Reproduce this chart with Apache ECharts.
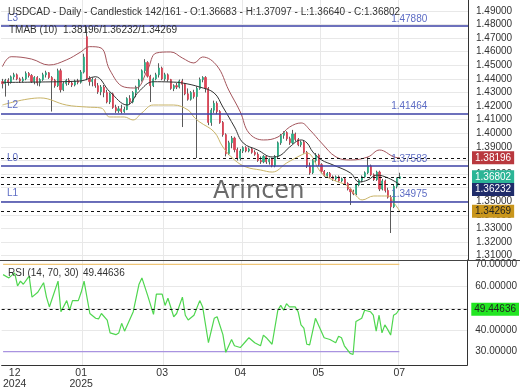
<!DOCTYPE html>
<html><head><meta charset="utf-8">
<script src="https://cdn.jsdelivr.net/npm/echarts@6/dist/echarts.min.js"></script>
<style>html,body{margin:0;padding:0;background:#fff}#c{width:520px;height:390px}</style>
</head><body><div id="c"></div>
<script>
const FONT = '"Liberation Sans",Arial,sans-serif';
const FS = 10;
const SLOTS = 161;
// [open, close, low, high]
const candles = [
[1.4380,1.4365,1.4330,1.4400],[1.4365,1.4390,1.4270,1.4400],[1.4390,1.4375,1.4350,1.4405],[1.4375,1.4415,1.4365,1.4425],
[1.4415,1.4430,1.4395,1.4445],[1.4430,1.4400,1.4390,1.4440],[1.4400,1.4385,1.4370,1.4410],[1.4385,1.4400,1.4375,1.4415],
[1.4400,1.4440,1.4390,1.4455],[1.4440,1.4425,1.4410,1.4450],[1.4425,1.4380,1.4370,1.4435],[1.4380,1.4410,1.4360,1.4420],
[1.4410,1.4370,1.4350,1.4420],[1.4370,1.4395,1.4345,1.4405],[1.4395,1.4430,1.4385,1.4445],[1.4430,1.4445,1.4410,1.4460],
[1.4445,1.4410,1.4400,1.4450],[1.4410,1.4390,1.4160,1.4420],[1.4390,1.4350,1.4335,1.4400],[1.4350,1.4460,1.4340,1.4475],
[1.4460,1.4320,1.4300,1.4475],[1.4320,1.4365,1.4310,1.4380],[1.4365,1.4390,1.4350,1.4400],[1.4390,1.4370,1.4355,1.4405],
[1.4370,1.4355,1.4340,1.4385],[1.4355,1.4385,1.4345,1.4395],[1.4385,1.4375,1.4360,1.4400],[1.4375,1.4450,1.4365,1.4465],
[1.4450,1.4560,1.4440,1.4585],[1.4710,1.4405,1.4390,1.4788],[1.4405,1.4380,1.4350,1.4420],[1.4380,1.4395,1.4345,1.4410],
[1.4395,1.4350,1.4335,1.4405],[1.4350,1.4305,1.4290,1.4370],[1.4305,1.4340,1.4280,1.4355],[1.4340,1.4300,1.4265,1.4355],
[1.4300,1.4230,1.4220,1.4320],[1.4230,1.4290,1.4215,1.4300],[1.4290,1.4190,1.4180,1.4300],[1.4190,1.4165,1.4150,1.4210],
[1.4165,1.4180,1.4150,1.4200],[1.4180,1.4160,1.4145,1.4210],[1.4160,1.4175,1.4150,1.4195],[1.4175,1.4255,1.4170,1.4265],
[1.4255,1.4230,1.4215,1.4280],[1.4230,1.4300,1.4220,1.4310],[1.4300,1.4340,1.4265,1.4350],[1.4340,1.4390,1.4320,1.4400],
[1.4390,1.4460,1.4380,1.4470],[1.4460,1.4520,1.4440,1.4545],[1.4520,1.4420,1.4410,1.4530],[1.4420,1.4350,1.4230,1.4430],
[1.4350,1.4400,1.4340,1.4410],[1.4400,1.4430,1.4390,1.4445],[1.4430,1.4480,1.4410,1.4515],[1.4480,1.4400,1.4390,1.4490],
[1.4400,1.4430,1.4385,1.4445],[1.4430,1.4395,1.4380,1.4440],[1.4395,1.4330,1.4320,1.4400],[1.4330,1.4350,1.4310,1.4360],
[1.4350,1.4340,1.4325,1.4370],[1.4340,1.4385,1.4330,1.4395],[1.4385,1.4360,1.4046,1.4400],[1.4360,1.4290,1.4280,1.4370],
[1.4290,1.4250,1.4240,1.4330],[1.4250,1.4300,1.4240,1.4310],[1.4300,1.4270,1.4255,1.4320],[1.4270,1.4330,1.3818,1.4345],
[1.4330,1.4395,1.4320,1.4410],[1.4395,1.4410,1.4375,1.4420],[1.4410,1.4330,1.4300,1.4420],[1.4330,1.4080,1.4060,1.4340],
[1.4080,1.4170,1.4055,1.4185],[1.4170,1.4220,1.4150,1.4240],[1.4220,1.4160,1.4140,1.4235],[1.4160,1.4080,1.4070,1.4170],
[1.4080,1.3990,1.3975,1.4090],[1.3990,1.3850,1.3830,1.4000],[1.3850,1.3930,1.3840,1.3945],[1.3930,1.3965,1.3890,1.3980],
[1.3965,1.3880,1.3860,1.3975],[1.3880,1.3815,1.3800,1.3895],[1.3815,1.3870,1.3800,1.3885],[1.3870,1.3895,1.3855,1.3905],
[1.3895,1.3870,1.3860,1.3905],[1.3870,1.3885,1.3860,1.3895],[1.3885,1.3860,1.3850,1.3895],[1.3860,1.3845,1.3835,1.3875],
[1.3845,1.3800,1.3790,1.3860],[1.3800,1.3790,1.3775,1.3830],[1.3790,1.3830,1.3780,1.3840],[1.3830,1.3790,1.3775,1.3840],
[1.3790,1.3810,1.3770,1.3820],[1.3810,1.3760,1.3750,1.3820],[1.3760,1.3830,1.3750,1.3840],[1.3830,1.3930,1.3815,1.3940],
[1.3930,1.3985,1.3915,1.3995],[1.3985,1.4005,1.3960,1.4015],[1.4005,1.3960,1.3945,1.4015],[1.3960,1.3930,1.3915,1.3975],
[1.3930,1.3995,1.3920,1.4025],[1.3995,1.3955,1.3940,1.4005],[1.3955,1.3915,1.3905,1.3965],[1.3915,1.3935,1.3900,1.3945],
[1.3935,1.3860,1.3850,1.3945],[1.3860,1.3760,1.3745,1.3870],[1.3760,1.3710,1.3695,1.3785],[1.3710,1.3800,1.3700,1.3810],
[1.3800,1.3840,1.3785,1.3855],[1.3840,1.3770,1.3760,1.3850],[1.3770,1.3720,1.3705,1.3780],[1.3720,1.3690,1.3680,1.3730],
[1.3690,1.3705,1.3680,1.3715],[1.3705,1.3680,1.3670,1.3715],[1.3680,1.3665,1.3650,1.3690],[1.3665,1.3680,1.3650,1.3690],
[1.3680,1.3650,1.3640,1.3690],[1.3650,1.3665,1.3640,1.3675],[1.3665,1.3630,1.3620,1.3675],[1.3630,1.3590,1.3580,1.3640],
[1.3590,1.3570,1.3473,1.3600],[1.3570,1.3555,1.3545,1.3585],[1.3555,1.3620,1.3545,1.3630],[1.3620,1.3655,1.3610,1.3665],
[1.3655,1.3680,1.3640,1.3690],[1.3680,1.3710,1.3670,1.3720],[1.3710,1.3760,1.3700,1.3826],[1.3760,1.3695,1.3685,1.3770],
[1.3695,1.3660,1.3650,1.3705],[1.3660,1.3715,1.3650,1.3725],[1.3715,1.3590,1.3575,1.3725],[1.3590,1.3650,1.3580,1.3665],
[1.3650,1.3580,1.3565,1.3660],[1.3580,1.3530,1.3520,1.3600],[1.3530,1.3460,1.3267,1.3545],[1.3460,1.3610,1.3450,1.3620],
[1.3610,1.3668,1.3595,1.3675],[1.36683,1.36802,1.36640,1.37097]
];
// TMAB bands: [bar index, value]
const tmabUpper = [[0,1.4490],[3,1.4563],[10,1.4546],[16,1.4502],[22,1.4539],[27,1.4598],[30,1.4637],[34,1.4627],[37,1.4466],[42,1.4340],[46,1.4333],[50,1.4466],[53,1.4590],[58,1.4598],[62,1.4554],[66,1.4517],[69,1.4561],[74,1.4495],[78,1.4318],[82,1.4157],[85,1.4002],[90,1.3951],[95,1.3973],[99,1.4046],[103,1.4076],[106,1.4024],[110,1.3929],[115,1.3826],[120,1.3804],[126,1.3826],[130,1.3877],[135,1.3826],[137,1.38196]];
const tmabMiddle = [[0,1.4374],[13,1.4377],[27,1.4385],[32,1.4416],[37,1.4306],[43,1.4208],[47,1.4306],[52,1.4379],[58,1.4377],[62,1.4370],[68,1.4340],[73,1.4296],[76,1.4193],[80,1.4046],[83,1.3929],[88,1.3877],[93,1.3826],[96,1.3840],[99,1.3899],[103,1.3951],[105,1.3929],[107,1.3863],[110,1.3804],[114,1.3767],[120,1.3708],[123,1.3642],[126,1.3657],[129,1.3693],[133,1.3671],[137,1.36232]];
const tmabLower = [[0,1.4208],[13,1.4260],[22,1.4208],[29,1.4193],[34,1.4186],[37,1.4120],[42,1.4120],[45,1.4098],[48,1.4149],[52,1.4208],[59,1.4208],[64,1.4171],[66,1.4120],[68,1.4083],[73,1.4010],[76,1.3899],[80,1.3804],[84,1.3752],[89,1.3730],[93,1.3715],[98,1.3782],[103,1.3840],[105,1.3855],[110,1.3708],[114,1.3657],[119,1.3613],[122,1.3539],[124,1.3510],[128,1.3539],[133,1.3539],[135,1.3488],[137,1.34269]];
const rsi = [[0,65.3],[2,63.8],[4,66.1],[5,60.1],[6,62.3],[7,60.9],[9,64.6],[10,55],[12,57.2],[14,61.6],[15,55],[16,50.5],[19,62.3],[20,48.3],[22,53.4],[23,49],[24,53.4],[26,53.4],[27,57.2],[28,62.3],[30,47.5],[32,45.3],[33,45],[34,47.5],[36,44.5],[37,38.6],[39,37.8],[40,38.6],[41,43],[42,39.4],[45,48.3],[47,60.9],[48,63.8],[50,55.7],[52,47.1],[53,56.4],[55,56.4],[56,51.2],[57,54.5],[59,46],[60,47.5],[62,55],[63,46.7],[64,44.5],[66,46.7],[68,53.4],[69,50.5],[71,34.1],[73,45.3],[74,46],[76,37.8],[77,29.7],[79,35.6],[80,32.7],[82,31.9],[84,34.9],[85,36.4],[87,34.1],[89,32.7],[90,37.6],[91,36.4],[93,33.4],[95,49],[96,51.2],[97,49],[98,52],[99,50.5],[101,50.5],[102,48.3],[103,42.3],[104,40.8],[105,33.4],[106,33.1],[108,45.3],[110,39.4],[111,36.4],[113,35.6],[115,34.1],[116,37.1],[117,36.4],[118,32.7],[120,29.2],[121,28.7],[122,43.8],[124,45.3],[125,49],[127,48.3],[128,46.7],[129,39.4],[130,46.7],[131,38.6],[132,42.3],[133,40.1],[134,37.6],[135,46.7],[136,47.5],[137,49.44636]];
const levelNames = ['L3','L2','L0','L1'];
const levelValues = [1.47880, 1.41464, 1.37583, 1.34975];
const tmabLast = [1.38196, 1.36232, 1.34269];
const lastClose = 1.36802;
const rsiLast = 49.44636;
const rsiBounds = [70, 30];
const mainTicks = [1.31,1.32,1.33,1.34,1.35,1.36,1.37,1.38,1.39,1.40,1.41,1.42,1.43,1.44,1.45,1.46,1.47,1.48,1.49];
const rsiLabelTicks = [30,40,60,70];
const rsiGridTicks = [40,50,60];
const xTickIdx = [4,27,55,82,109,137];
const xTickLabels = ['12\n2024','01\n2025','03','04','05','07'];
const xGridIdx = [28,56,83,110,137];

const categories = [];
{ const d = new Date(Date.UTC(2024,11,24));
  while (categories.length < SLOTS) { const wd = d.getUTCDay(); if (wd !== 0 && wd !== 6) categories.push(d.toISOString().slice(0,10)); d.setUTCDate(d.getUTCDate()+1); } }
const lastIdx = candles.length - 1;

const txt = (o) => Object.assign({fontFamily: FONT, fontSize: FS, fontWeight: 'normal', color: '#333'}, o || {});
const badge = (bg, fg, v, dy) => ({show: true, position: 'end', distance: 4, offset: [0, dy || 0], formatter: v.toFixed(5), backgroundColor: bg, color: fg, padding: [2,3,1,3], fontFamily: FONT, fontSize: FS});
const dashed = {type: [3,3], color: '#111', width: 1};
const levelLine = {type: 'solid', color: '#3c42a6', width: 1.5};
const gridColor = '#e8e8e8';
const ml = (data) => ({symbol: ['none','none'], silent: true, animation: false, precision: 5, data});

const chart = echarts.init(document.getElementById('c'), null, {renderer: 'canvas'});
chart.setOption({
  animation: false,
  backgroundColor: '#fff',
  title: [
    {text: 'USDCAD - Daily - Candlestick', left: 8, top: 7, padding: 0, textStyle: txt()},
    {text: '142/161 - O:1.36683 - H:1.37097 - L:1.36640 - C:1.36802', left: 145, top: 7, padding: 0, textStyle: txt()},
    {text: 'TMAB (10)', left: 9, top: 25, padding: 0, textStyle: txt()},
    {text: tmabLast.map(v => v.toFixed(5)).join('/'), left: 63, top: 25, padding: 0, textStyle: txt()},
    {text: 'RSI (14, 70, 30)', left: 8, top: 268, padding: 0, textStyle: txt()},
    {text: rsiLast.toFixed(5), left: 83, top: 268, padding: 0, textStyle: txt()},
    {text: 'Arincen', left: 213, top: 180, padding: 0, textStyle: {fontFamily: 'DejaVu Sans', fontSize: 24, fontWeight: 'normal', color: '#6a6a6a'}}
  ],
  grid: [
    {left: 1, right: 52, top: 0, height: 260},
    {left: 1, right: 52, top: 260, height: 108}
  ],
  xAxis: [
    {type: 'category', gridIndex: 0, data: categories, boundaryGap: true,
     axisLine: {show: false}, axisTick: {show: false}, axisLabel: {show: false},
     splitLine: {show: true, interval: (i) => xGridIdx.includes(i), lineStyle: {color: gridColor}}},
    {type: 'category', gridIndex: 1, data: categories, boundaryGap: true,
     axisLine: {show: true, lineStyle: {color: '#333'}}, axisTick: {show: false},
     axisLabel: {interval: (i) => xTickIdx.includes(i), formatter: (v, i) => xTickLabels[xTickIdx.indexOf(i)] || '',
       color: '#333', fontFamily: FONT, fontSize: FS + 0.5, lineHeight: 11, margin: 3},
     splitLine: {show: true, interval: (i) => xGridIdx.includes(i), lineStyle: {color: gridColor}}}
  ],
  yAxis: [
    {type: 'value', gridIndex: 0, position: 'right', min: 1.30684, max: 1.4980, scale: true,
     axisLine: {show: true, lineStyle: {color: '#333'}},
     axisTick: {show: false, customValues: mainTicks},
     axisLabel: {customValues: mainTicks, formatter: v => v.toFixed(5), color: '#333', fontFamily: FONT, fontSize: FS, margin: 8},
     splitLine: {show: true, lineStyle: {color: gridColor}}},
    {type: 'value', gridIndex: 1, position: 'right', min: 23.9, max: 72,
     axisLine: {show: true, lineStyle: {color: '#333'}},
     axisTick: {show: false, customValues: rsiGridTicks},
     axisLabel: {customValues: rsiLabelTicks, formatter: v => v.toFixed(5), color: '#333', fontFamily: FONT, fontSize: FS, margin: 8},
     splitLine: {show: true, lineStyle: {color: gridColor}}}
  ],
  graphic: [
    {type: 'line', shape: {x1: 0, y1: 260.5, x2: 520, y2: 260.5}, style: {stroke: '#444', lineWidth: 1}, z: 50}
  ],
  series: [
    {name: 'wicks', type: 'candlestick', xAxisIndex: 0, yAxisIndex: 0, barWidth: 0.6,
     data: candles,
     itemStyle: {color: '#5a5a5a', color0: '#5a5a5a', borderColor: '#5a5a5a', borderColor0: '#5a5a5a', borderWidth: 1}},
    {name: 'USDCAD', type: 'candlestick', xAxisIndex: 0, yAxisIndex: 0, barWidth: 1.6,
     data: candles.map(c => [c[0], c[1], Math.min(c[0], c[1]), Math.max(c[0], c[1])]),
     itemStyle: {color: '#2fae86', color0: '#dc4658', borderColor: '#2fae86', borderColor0: '#dc4658', borderWidth: 0.8},
     markLine: ml(levelValues.map((v, k) => ({yAxis: v, lineStyle: levelLine,
          label: {show: true, position: 'insideStartTop', distance: [6, 3], formatter: levelNames[k], color: '#5d6cc4', fontFamily: FONT, fontSize: FS}}))
         .concat([{yAxis: lastClose, lineStyle: dashed, label: badge('#2bb596', '#fff', lastClose, 0)}])),
     markPoint: {symbol: 'rect', symbolSize: 0, silent: true, animation: false,
       data: levelValues.map(v => ({coord: [134, v], value: v,
          label: {show: true, position: 'right', distance: 0, offset: [0, -7], formatter: v.toFixed(5), color: '#5d6cc4', fontFamily: FONT, fontSize: FS}}))}},
    {name: 'TMAB upper', type: 'line', xAxisIndex: 0, yAxisIndex: 0, data: tmabUpper, smooth: 0.4, symbol: 'none',
     lineStyle: {color: '#a4555c', width: 1},
     markLine: ml([{yAxis: tmabLast[0], lineStyle: dashed, label: badge('#b9383e', '#fff', tmabLast[0], 0)}])},
    {name: 'TMAB middle', type: 'line', xAxisIndex: 0, yAxisIndex: 0, data: tmabMiddle, smooth: 0.4, symbol: 'none',
     lineStyle: {color: '#333', width: 1},
     markLine: ml([{yAxis: tmabLast[1], lineStyle: dashed, label: badge('#1f2c6a', '#fff', tmabLast[1], 5)}])},
    {name: 'TMAB lower', type: 'line', xAxisIndex: 0, yAxisIndex: 0, data: tmabLower, smooth: 0.4, symbol: 'none',
     lineStyle: {color: '#c9b468', width: 1},
     markLine: ml([{yAxis: tmabLast[2], lineStyle: dashed, label: badge('#c9961c', '#222', tmabLast[2], 0)}])},
    {name: 'RSI 70', type: 'line', xAxisIndex: 1, yAxisIndex: 1, data: [[0, rsiBounds[0]], [lastIdx, rsiBounds[0]]], symbol: 'none',
     lineStyle: {color: '#f0c678', width: 1.2}},
    {name: 'RSI 30', type: 'line', xAxisIndex: 1, yAxisIndex: 1, data: [[0, rsiBounds[1]], [lastIdx, rsiBounds[1]]], symbol: 'none',
     lineStyle: {color: '#a993e0', width: 1.2}},
    {name: 'RSI', type: 'line', xAxisIndex: 1, yAxisIndex: 1, data: rsi, symbol: 'none',
     lineStyle: {color: '#4fd64f', width: 1.2},
     markLine: ml([{yAxis: rsiLast, lineStyle: dashed, label: badge('#22e622', '#222', rsiLast, 0)}])}
  ]
});
</script></body></html>
